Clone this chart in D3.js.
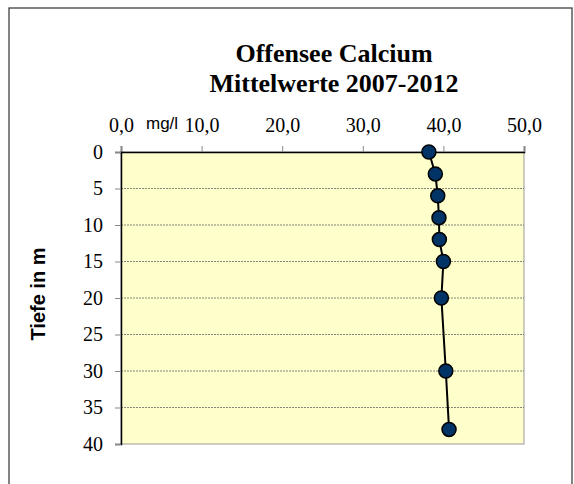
<!DOCTYPE html>
<html><head><meta charset="utf-8">
<script src="https://cdn.jsdelivr.net/npm/d3@7"></script>
<style>body{margin:0;background:#fff}svg{display:block}</style>
</head><body>
<script>
const depths = [0, 3, 6, 9, 12, 15, 20, 30, 38];
const calcium = [38.2, 39.0, 39.3, 39.45, 39.5, 40.0, 39.75, 40.3, 40.7];
const xTicks = [0, 10, 20, 30, 40, 50];
const yTicks = [0, 5, 10, 15, 20, 25, 30, 35, 40];
const titleLines = ["Offensee Calcium", "Mittelwerte 2007-2012"];
const xLabel = "mg/l";
const yLabel = "Tiefe in m";

const W = 574, H = 484;
const svg = d3.select("body").append("svg").attr("width", W).attr("height", H);
svg.append("rect").attr("x", 9).attr("y", 8).attr("width", 563).attr("height", 490)
  .attr("fill", "#fff").attr("stroke", "#404040").attr("stroke-width", 1.3);

const x = d3.scaleLinear().domain([0, 50]).range([121, 524]);
const y = d3.scaleLinear().domain([0, 40]).range([152, 444]);
const fmt = d => d.toFixed(1).replace(".", ",");
const serif = "Liberation Serif, Times New Roman, serif";
const sans = "Liberation Sans, Arial, sans-serif";

svg.append("rect").attr("x", x(0)).attr("y", y(0)).attr("width", x(50) - x(0)).attr("height", y(40) - y(0))
  .attr("fill", "#FFFFCC").attr("stroke", "#999").attr("stroke-width", 1);

// grid
svg.append("g").selectAll("line").data(yTicks.filter(d => d > 0 && d < 40)).join("line")
  .attr("x1", x(0)).attr("x2", x(50)).attr("y1", d => y(d)).attr("y2", d => y(d))
  .attr("stroke", "#666").attr("stroke-width", 0.8).attr("stroke-dasharray", "2,1");

// axes
const xAxis = d3.axisTop(x).tickValues(xTicks).tickFormat(fmt).tickSize(6).tickPadding(14);
const gx = svg.append("g").attr("transform", `translate(0,${y(0)})`).call(xAxis);
gx.select(".domain").attr("stroke", "#000").attr("stroke-width", 1.5);
gx.selectAll(".tick line").attr("stroke", "#888");
gx.selectAll("text").attr("font-family", serif).attr("font-size", 20).attr("fill", "#000");

const yAxis = d3.axisLeft(y).tickValues(yTicks).tickFormat(d3.format("d")).tickSize(6).tickPadding(12);
const gy = svg.append("g").attr("transform", `translate(${x(0)},0)`).call(yAxis);
gy.select(".domain").attr("stroke", "#000").attr("stroke-width", 1.5);
gy.selectAll(".tick line").attr("stroke", "#888");
gy.selectAll("text").attr("font-family", serif).attr("font-size", 20).attr("fill", "#000");

// title
svg.append("text").attr("x", 334).attr("text-anchor", "middle")
  .attr("font-family", serif).attr("font-weight", "bold").attr("font-size", 26)
  .selectAll("tspan").data(titleLines).join("tspan").attr("x", 334).attr("y", (d, i) => 62 + i * 30).text(d => d);

svg.append("text").attr("x", 146).attr("y", 129).attr("font-family", sans)
  .attr("font-size", 17).text(xLabel);

svg.append("text").attr("transform", "translate(45,294) rotate(-90)").attr("text-anchor", "middle")
  .attr("font-family", sans).attr("font-weight", "bold").attr("font-size", 20).text(yLabel);

const data = depths.map((d, i) => ({d, v: calcium[i]}));
svg.append("path").datum(data).attr("fill", "none").attr("stroke", "#000").attr("stroke-width", 2)
  .attr("d", d3.line().x(p => x(p.v)).y(p => y(p.d)));
svg.append("g").selectAll("circle").data(data).join("circle")
  .attr("cx", p => x(p.v)).attr("cy", p => y(p.d)).attr("r", 7)
  .attr("fill", "#003366").attr("stroke", "#000").attr("stroke-width", 1.5);
</script>
</body></html>
